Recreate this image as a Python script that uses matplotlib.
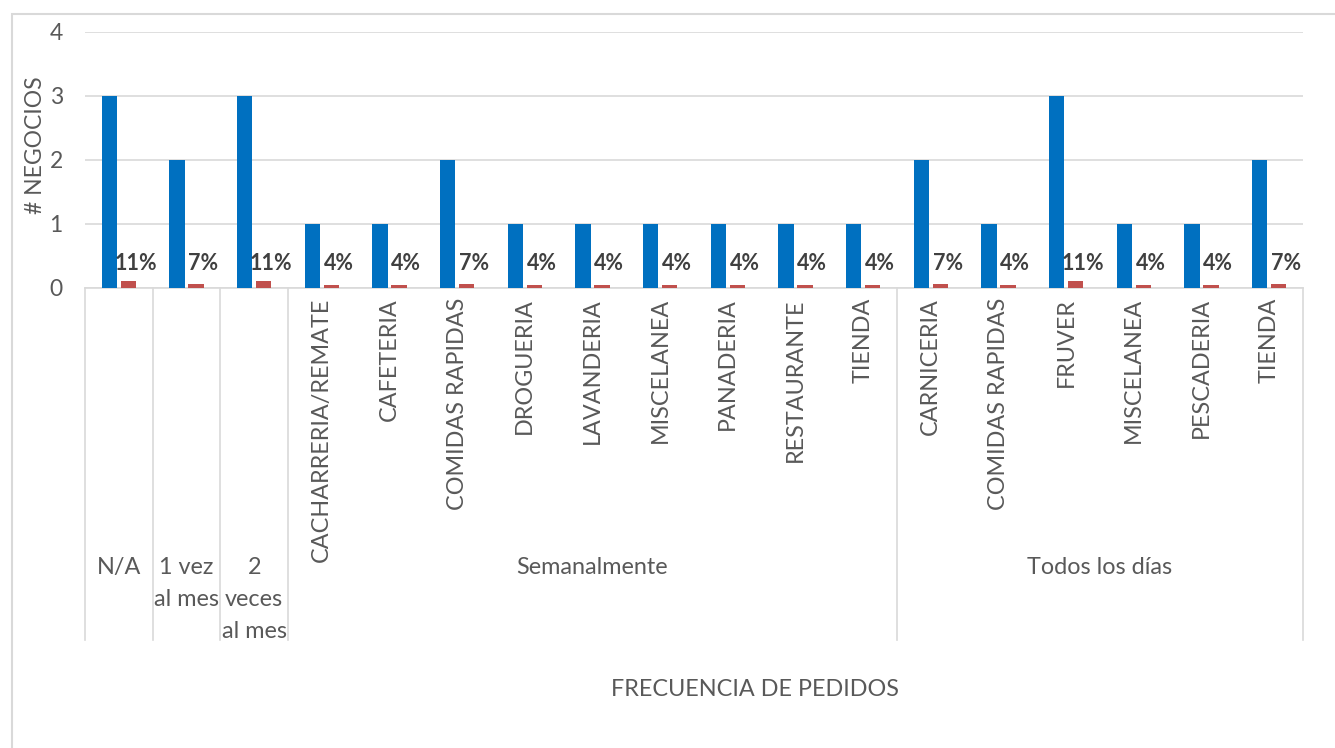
import matplotlib.pyplot as plt
from matplotlib.lines import Line2D
from matplotlib.patches import Rectangle

# datos
grupos = ["N/A", "1 vez\nal mes", "2\nveces\nal mes", "Semanalmente", "Todos los días"]
subcategorias = [
    [""],
    [""],
    [""],
    ["CACHARRERIA/REMATE", "CAFETERIA", "COMIDAS RAPIDAS", "DROGUERIA", "LAVANDERIA",
     "MISCELANEA", "PANADERIA", "RESTAURANTE", "TIENDA"],
    ["CARNICERIA", "COMIDAS RAPIDAS", "FRUVER", "MISCELANEA", "PESCADERIA", "TIENDA"],
]
negocios = [3, 2, 3, 1, 1, 2, 1, 1, 1, 1, 1, 1, 2, 1, 3, 1, 1, 2]
porcentaje = [0.11, 0.07, 0.11, 0.04, 0.04, 0.07, 0.04, 0.04, 0.04, 0.04, 0.04, 0.04,
              0.07, 0.04, 0.11, 0.04, 0.04, 0.07]

azul = "#0070C0"
rojo = "#C0504D"
gris = "#595959"
rejilla = "#D9D9D9"

plt.rcParams['font.family'] = ['Lato', 'DejaVu Sans']

fig = plt.figure(figsize=(13.35, 7.48), dpi=100)
ax = fig.add_axes([85 / 1335, 1 - 288 / 748, (1303 - 85) / 1335, 256 / 748])

n = len(negocios)
x = list(range(n))
ancho = 0.23
ax.bar([i - 0.14 for i in x], negocios, width=ancho, color=azul, zorder=3)
ax.bar([i + 0.14 for i in x], porcentaje, width=ancho, color=rojo, zorder=3)

for i, p in zip(x, porcentaje):
    ax.text(i + 0.25, 0.38, f"{p:.0%}", ha="center", va="center",
            fontsize=15.5, fontweight="bold", color="#404040", zorder=4)

ax.set_xlim(-0.5, n - 0.5)
ax.set_ylim(0, 4)
ax.set_yticks([0, 1, 2, 3, 4])
ax.tick_params(axis="y", length=0, labelsize=16.5, colors=gris, pad=16)
ax.set_xticks([])
ax.grid(axis="y", color=rejilla, linewidth=1.2, zorder=0)
for s in ["top", "right", "left"]:
    ax.spines[s].set_visible(False)
ax.spines["bottom"].set_color(rejilla)
ax.spines["bottom"].set_linewidth(1.2)

# eje de categorias en dos niveles
tr = ax.get_xaxis_transform()
alto = 256
fondo = -(640 - 288) / alto
pos = 0
bordes = [-0.5]
for g, subs in zip(grupos, subcategorias):
    for j, s in enumerate(subs):
        ax.text(pos + j, -10 / alto, s, rotation=90, ha="center", va="top",
                fontsize=16.8, color=gris, transform=tr)
    centro = pos + (len(subs) - 1) / 2
    ax.text(centro, -(557 - 288) / alto, g, ha="center", va="top",
            fontsize=16.8, color=gris, transform=tr, linespacing=1.65)
    pos += len(subs)
    bordes.append(pos - 0.5)

for b in bordes:
    ax.add_line(Line2D([b, b], [0, fondo], color=rejilla, linewidth=1.2,
                       transform=tr, clip_on=False))

fig.text(35 / 1335, 1 - 145 / 748, "# NEGOCIOS", rotation=90, ha="center", va="center",
         fontsize=16.5, color=gris)
fig.text(755 / 1335, 1 - 690 / 748, "FRECUENCIA DE PEDIDOS", ha="center", va="center",
         fontsize=16.8, color=gris)

# borde del grafico
fig.patches.append(Rectangle((12 / 1335, -0.1), 1.2, 1.1 - 14 / 748, transform=fig.transFigure,
                             fill=False, edgecolor=rejilla, linewidth=1.5))

fig.savefig("out.png", dpi=100)
